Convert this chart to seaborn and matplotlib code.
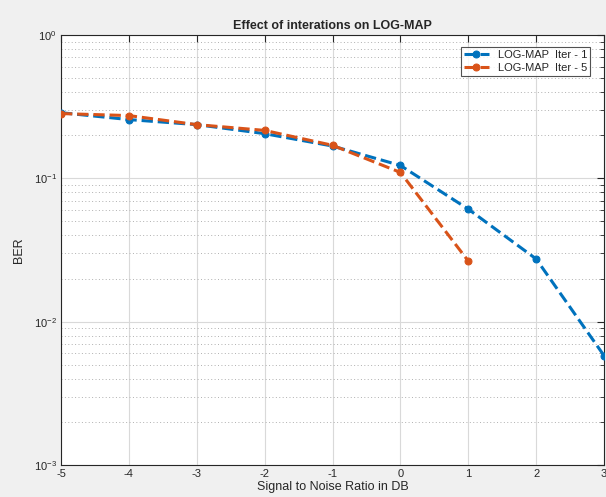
import numpy as np
import pandas as pd
import matplotlib
matplotlib.use('Agg')
import matplotlib.pyplot as plt
import seaborn as sns

snr_iter1 = [-5, -4, -3, -2, -1, 0, 1, 2, 3]
ber_iter1 = [0.287, 0.257, 0.237, 0.205, 0.168, 0.123, 0.061, 0.0274, 0.0058]
snr_iter5 = [-5, -4, -3, -2, -1, 0, 1]
ber_iter5 = [0.283, 0.274, 0.237, 0.216, 0.170, 0.110, 0.0265]
labels = ['LOG-MAP  Iter - 1', 'LOG-MAP  Iter - 5']
colors = ['#0072BD', '#D95319']

sns.set_style('white')
plt.rcParams['font.family'] = ['Liberation Sans', 'DejaVu Sans']
plt.rcParams['axes.unicode_minus'] = False

fig = plt.figure(figsize=(6.06, 4.97), dpi=100, facecolor='#f0f0f0')
ax = fig.add_axes([61 / 606, 1 - 465 / 497, 543 / 606, 430 / 497])
ax.set_facecolor('white')

for x, y, lab, c in [(snr_iter1, ber_iter1, labels[0], colors[0]),
                     (snr_iter5, ber_iter5, labels[1], colors[1])]:
    sns.lineplot(x=x, y=y, ax=ax, color=c, linestyle='--', linewidth=2.2,
                 marker='o', markersize=5, markeredgecolor=c, label=lab,
                 zorder=3)

ax.set_yscale('log')
ax.set_xlim(-5, 3)
ax.set_ylim(1e-3, 1)
ax.set_xticks(range(-5, 4))
ax.grid(True, which='major', color='#d9d9d9', linewidth=0.8)
ax.grid(True, which='minor', axis='y', color='#b0b0b0', linestyle=(0, (1, 2.5)),
        linewidth=0.7)
ax.tick_params(which='both', direction='in', top=True, right=True,
               labelsize=8, colors='#262626')
ax.tick_params(which='major', length=5, pad=3)
ax.tick_params(which='minor', length=3)
for s in ax.spines.values():
    s.set_color('#262626')
    s.set_linewidth(0.8)

ax.set_title('Effect of interations on LOG-MAP', fontsize=9,
             fontweight='bold', pad=4)
ax.set_xlabel('Signal to Noise Ratio in DB', fontsize=9, labelpad=1.5)
ax.set_ylabel('BER', fontsize=9, labelpad=6)

leg = ax.legend(loc='upper right', fontsize=8, frameon=True, fancybox=False,
                borderpad=0.3, handlelength=2.2, labelspacing=0.2,
                bbox_to_anchor=(0.985, 0.985))
leg.get_frame().set_edgecolor('#262626')
leg.get_frame().set_linewidth(0.8)

fig.savefig('out.png', dpi=100, facecolor=fig.get_facecolor())
